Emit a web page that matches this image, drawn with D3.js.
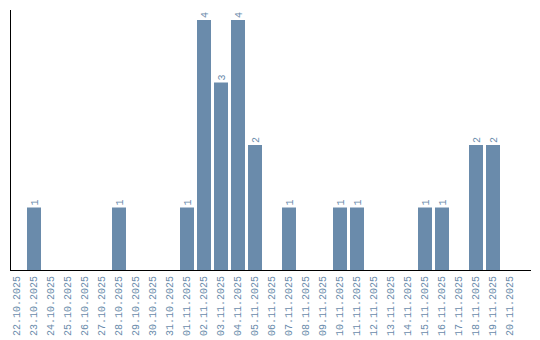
<!DOCTYPE html>
<html>
<head>
<meta charset="utf-8">
<script src="https://cdn.jsdelivr.net/npm/d3@7"></script>
<style>
  body { margin: 0; background: #fff; }
  text { font-family: "Liberation Mono", monospace; font-size: 10px; fill: #6a8bab; }
</style>
</head>
<body>
<div id="chart"></div>
<script>
const dates = [
  "22.10.2025", "23.10.2025", "24.10.2025", "25.10.2025", "26.10.2025",
  "27.10.2025", "28.10.2025", "29.10.2025", "30.10.2025", "31.10.2025",
  "01.11.2025", "02.11.2025", "03.11.2025", "04.11.2025", "05.11.2025",
  "06.11.2025", "07.11.2025", "08.11.2025", "09.11.2025", "10.11.2025",
  "11.11.2025", "12.11.2025", "13.11.2025", "14.11.2025", "15.11.2025",
  "16.11.2025", "17.11.2025", "18.11.2025", "19.11.2025", "20.11.2025",
];
const counts = [
  0, 1, 0, 0, 0, 0, 1, 0, 0, 0,
  1, 4, 3, 4, 2, 0, 1, 0, 0, 1,
  1, 0, 0, 0, 1, 1, 0, 2, 2, 0,
];

const W = 540, H = 340;
const mLeft = 10, mBottom = 270, mTop = 20;
const BAR = "#6a8bab";

const svg = d3.select("#chart").append("svg")
  .attr("width", W).attr("height", H);

const x = d3.scaleBand()
  .domain(dates)
  .range([mLeft, mLeft + 17 * (30 - 3 / 17)])
  .paddingInner(3 / 17)
  .paddingOuter(0);

const y = d3.scaleLinear().domain([0, 4]).range([mBottom, mTop]);

const data = dates.map((d, i) => ({ date: d, n: counts[i] }));
const shown = data.filter((d) => d.n > 0);

svg.append("g").selectAll("rect").data(shown).join("rect")
  .attr("x", (d) => x(d.date))
  .attr("width", x.bandwidth())
  .attr("y", (d) => y(d.n))
  .attr("height", (d) => mBottom - y(d.n))
  .attr("fill", BAR);

svg.append("g").selectAll("text").data(shown).join("text")
  .attr("transform", (d) => `translate(${x(d.date) + x.bandwidth() / 2 + 3.5},${y(d.n) - 2}) rotate(-90)`)
  .attr("text-anchor", "start")
  .text((d) => d.n);

const xAxis = svg.append("g")
  .attr("transform", `translate(0,${mBottom})`)
  .call(d3.axisBottom(x).tickSize(0).tickPadding(0));
xAxis.select(".domain").remove();
xAxis.selectAll("text")
  .attr("transform", "rotate(-90)")
  .attr("text-anchor", "end")
  .attr("x", -6)
  .attr("y", 0)
  .attr("dy", "0.32em")
  .style("font-family", '"Liberation Mono", monospace')
  .style("font-size", "10px")
  .attr("fill", BAR);

// axis lines
svg.append("line")
  .attr("x1", mLeft + 0.5).attr("x2", mLeft + 0.5)
  .attr("y1", 10).attr("y2", mBottom)
  .attr("stroke", "#000");
svg.append("line")
  .attr("x1", mLeft).attr("x2", 531)
  .attr("y1", mBottom + 0.5).attr("y2", mBottom + 0.5)
  .attr("stroke", "#000");
</script>
</body>
</html>
